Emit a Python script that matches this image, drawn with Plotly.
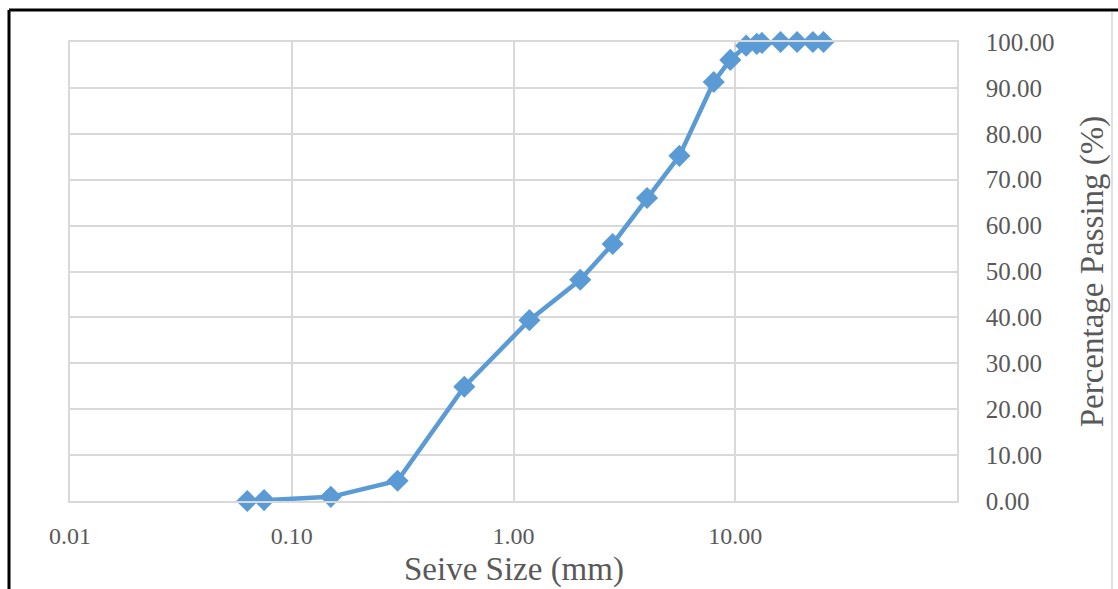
import plotly.graph_objects as go

# Sieve analysis: sieve opening (mm) vs cumulative percentage passing
sieve_size_mm = [0.063, 0.075, 0.15, 0.3, 0.6, 1.18, 2.0, 2.8, 4.0, 5.6,
                 8.0, 9.5, 11.2, 12.5, 13.2, 16.0, 19.0, 22.4, 25.0]
percent_passing = [0.0, 0.2, 0.9, 4.4, 24.9, 39.4, 48.2, 56.0, 66.0, 75.2,
                   91.3, 96.1, 99.2, 99.6, 99.8, 100.0, 100.0, 100.0, 100.0]

x_tick_vals = [0.01, 0.1, 1, 10]
x_tick_text = ["0.01", "0.10", "1.00", "10.00"]

W, H = 1118, 589
ML, MR, MT, MB = 70, 161, 42, 88
PW, PH = W - ML - MR, H - MT - MB

def px_x(p):
    return (p - ML) / PW

def px_y(p):
    return (H - MB - p) / PH

LINE_BLUE = "#5B9BD5"
GRID = "#d9d9d9"
TEXT = "#595959"
FONT = "Liberation Serif"

fig = go.Figure()
fig.add_trace(go.Scatter(
    x=sieve_size_mm,
    y=percent_passing,
    mode="lines+markers",
    line=dict(color=LINE_BLUE, width=4.5),
    marker=dict(symbol="diamond", size=17, color=LINE_BLUE, line=dict(width=0)),
    cliponaxis=False,
    showlegend=False,
))

fig.update_layout(
    width=W, height=H,
    margin=dict(l=ML, r=MR, t=MT, b=MB, pad=0, autoexpand=False),
    paper_bgcolor="white",
    plot_bgcolor="white",
    font=dict(family=FONT, color=TEXT),
    xaxis=dict(
        type="log",
        range=[-2, 2],
        automargin=False,
        tickvals=x_tick_vals,
        ticktext=x_tick_text,
        tickfont=dict(family=FONT, size=24, color=TEXT),
        ticks="outside", ticklen=12, tickcolor="rgba(0,0,0,0)",
        showgrid=True, gridcolor=GRID, gridwidth=1.5,
        showline=True, linecolor=GRID, linewidth=1.5, mirror=True,
    ),
    yaxis=dict(
        side="right",
        range=[0, 100],
        automargin=False,
        tick0=0, dtick=10,
        tickformat=".2f",
        tickfont=dict(family=FONT, size=25, color=TEXT),
        ticks="outside", ticklen=22, tickcolor="rgba(0,0,0,0)",
        showgrid=True, gridcolor=GRID, gridwidth=1.5,
        zeroline=False,
        showline=True, linecolor=GRID, linewidth=1.5, mirror=True,
        title=dict(text="Percentage Passing (%)", font=dict(family=FONT, size=33, color=TEXT), standoff=26),
    ),
    annotations=[
        dict(text="Seive Size (mm)", xref="paper", yref="paper",
             x=0.5, y=px_y(569), xanchor="center", yanchor="middle",
             showarrow=False, font=dict(family=FONT, size=33, color=TEXT)),
    ],
    shapes=[
        # outer frame: dark top and left edges, light right edge
        dict(type="line", xref="paper", yref="paper",
             x0=px_x(9), x1=px_x(W), y0=px_y(10), y1=px_y(10),
             line=dict(color="black", width=3)),
        dict(type="line", xref="paper", yref="paper",
             x0=px_x(9), x1=px_x(9), y0=px_y(10), y1=px_y(H),
             line=dict(color="black", width=3)),
        dict(type="line", xref="paper", yref="paper",
             x0=px_x(1112), x1=px_x(1112), y0=px_y(12), y1=px_y(H),
             line=dict(color="#e0e0e0", width=2)),
    ],
)

fig.write_html("out.html")
